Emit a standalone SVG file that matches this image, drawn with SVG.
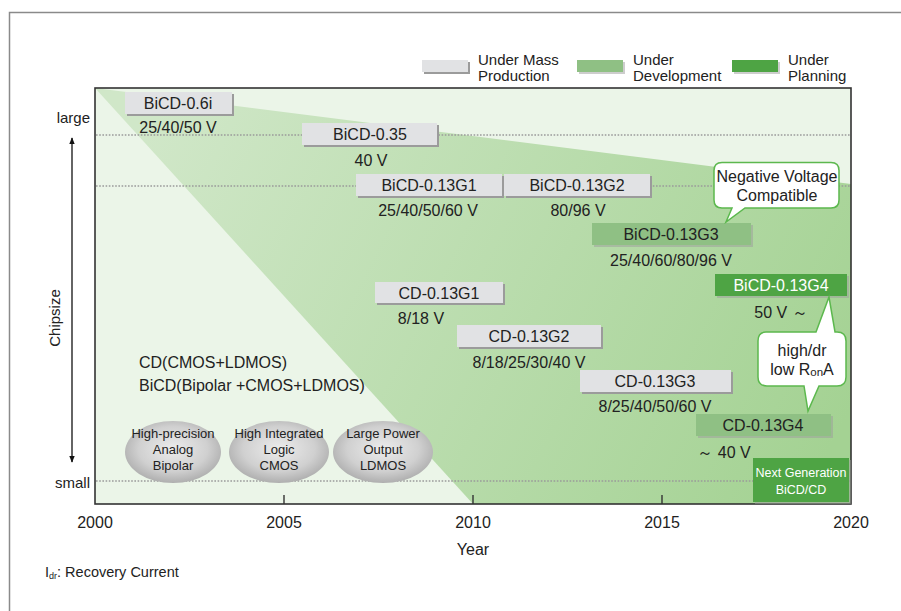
<svg xmlns="http://www.w3.org/2000/svg" width="901" height="611" viewBox="0 0 901 611">
<defs>
  <style>
    text { font-family: "Liberation Sans", Arial, sans-serif; fill: #222; }
    .lbl { font-size: 16px; text-anchor: middle; }
    .leg { font-size: 15px; }
    .axis { font-size: 16px; text-anchor: middle; }
    .ball { font-size: 13px; text-anchor: middle; }
    .small { font-size: 12.5px; text-anchor: middle; }
    .white { fill: #fff; }
    .dot { stroke: #9a9a9a; stroke-width: 1.6; stroke-dasharray: 1.6 1.6; fill: none; }
    .shadow { fill: #9b9b9b; }
    .gray { fill: #e1e2e4; }
    .dev { fill: #8fc084; }
    .plan { fill: #4ea444; }
    .callout { fill: #fff; stroke: #5cb84e; stroke-width: 1.5; }
  </style>
  <linearGradient id="greenFill" gradientUnits="userSpaceOnUse" x1="150" y1="130" x2="820" y2="470">
    <stop offset="0" stop-color="#d0e7c8"/>
    <stop offset="1" stop-color="#a4d293"/>
  </linearGradient>
  <radialGradient id="ballFill" cx="0.5" cy="0.45" r="0.6">
    <stop offset="0" stop-color="#ececec"/>
    <stop offset="0.6" stop-color="#d0d0d0"/>
    <stop offset="1" stop-color="#a6a6a6"/>
  </radialGradient>
  <marker id="arrow" viewBox="0 0 10 10" refX="9" refY="5" markerWidth="7" markerHeight="9" orient="auto-start-reverse" markerUnits="userSpaceOnUse">
    <path d="M0,1 L10,5 L0,9 z" fill="#111"/>
  </marker>
</defs>

<!-- page frame -->
<path d="M9.5,611 V12.5 H901" fill="none" stroke="#8a8a8a" stroke-width="1.5"/>

<!-- plot area -->
<rect x="95" y="88" width="756" height="416" fill="#ebf5e8"/>
<path d="M95,88 L851,184 L851,504 L473,504 Z" fill="url(#greenFill)"/>

<!-- chipsize grid lines -->
<g id="grid">
  <line class="dot" x1="96" y1="135" x2="850" y2="135"/>
  <line class="dot" x1="96" y1="186" x2="850" y2="186"/>
  <line class="dot" x1="96" y1="481" x2="850" y2="481"/>
</g>

<rect x="95" y="88" width="756" height="416" fill="none" stroke="#333" stroke-width="1.6"/>
<g id="ticks" stroke="#333" stroke-width="1.4">
  <line x1="284" y1="495" x2="284" y2="504"/>
  <line x1="473" y1="495" x2="473" y2="504"/>
  <line x1="662" y1="495" x2="662" y2="504"/>
</g>

<!-- axes labels -->
<g id="axis-labels">
  <text class="axis" x="95" y="528">2000</text>
  <text class="axis" x="284" y="528">2005</text>
  <text class="axis" x="473" y="528">2010</text>
  <text class="axis" x="662" y="528">2015</text>
  <text class="axis" x="851" y="528">2020</text>
  <text class="axis" x="473" y="555">Year</text>
  <text x="90" y="123" font-size="15" text-anchor="end">large</text>
  <text x="90" y="488" font-size="15" text-anchor="end">small</text>
  <text x="60" y="318" font-size="15" text-anchor="middle" transform="rotate(-90 60 318)">Chipsize</text>
</g>

<!-- chipsize arrow -->
<g id="connectors">
  <line x1="72" y1="138" x2="72" y2="462" stroke="#111" stroke-width="1.3" marker-start="url(#arrow)" marker-end="url(#arrow)"/>
</g>

<!-- legend -->
<g id="legend">
  <rect class="shadow" x="424" y="62" width="46" height="12"/>
  <rect class="gray" x="422" y="60" width="46" height="12"/>
  <text class="leg" x="478" y="64.5">Under Mass</text>
  <text class="leg" x="478" y="80.5">Production</text>
  <rect class="shadow" x="579" y="62" width="46" height="12" fill-opacity="0.5"/>
  <rect class="dev" x="577" y="60" width="46" height="12"/>
  <text class="leg" x="633" y="64.5">Under</text>
  <text class="leg" x="633" y="80.5">Development</text>
  <rect class="shadow" x="734" y="62" width="46" height="12" fill-opacity="0.5"/>
  <rect class="plan" x="732" y="60" width="46" height="12"/>
  <text class="leg" x="788" y="64.5">Under</text>
  <text class="leg" x="788" y="80.5">Planning</text>
</g>

<!-- BiCD generations -->
<g id="bicd-06i">
  <rect class="shadow" x="127" y="94" width="107" height="22"/>
  <rect class="gray" x="125" y="92" width="107" height="22"/>
  <text class="lbl" x="178" y="109">BiCD-0.6i</text>
  <text class="lbl" x="178" y="133">25/40/50 V</text>
</g>
<g id="bicd-035">
  <rect class="shadow" x="304" y="125" width="135" height="22"/>
  <rect class="gray" x="302" y="123" width="135" height="22"/>
  <text class="lbl" x="370" y="140">BiCD-0.35</text>
  <text class="lbl" x="371" y="166">40 V</text>
</g>
<g id="bicd-013g1">
  <rect class="shadow" x="358" y="176" width="146" height="22"/>
  <rect class="gray" x="356" y="174" width="146" height="22"/>
  <text class="lbl" x="429" y="191">BiCD-0.13G1</text>
  <text class="lbl" x="428" y="216">25/40/50/60 V</text>
</g>
<g id="bicd-013g2">
  <rect class="shadow" x="506" y="176" width="146" height="22"/>
  <rect class="gray" x="504" y="174" width="146" height="22"/>
  <text class="lbl" x="577" y="191">BiCD-0.13G2</text>
  <text class="lbl" x="578" y="216">80/96 V</text>
</g>
<g id="bicd-013g3">
  <rect class="shadow" x="594" y="225" width="159" height="22" fill-opacity="0.5"/>
  <rect class="dev" x="592" y="223" width="159" height="22"/>
  <text class="lbl" x="671" y="240">BiCD-0.13G3</text>
  <text class="lbl" x="671" y="266">25/40/60/80/96 V</text>
</g>
<g id="bicd-013g4">
  <rect class="shadow" x="717" y="276" width="132" height="22" fill-opacity="0.5"/>
  <rect class="plan" x="715" y="274" width="132" height="22"/>
  <text class="lbl white" x="781" y="291">BiCD-0.13G4</text>
  <text class="lbl" x="781" y="318">50 V ～</text>
</g>

<!-- CD generations -->
<g id="cd-013g1">
  <rect class="shadow" x="377" y="284" width="128" height="21"/>
  <rect class="gray" x="375" y="282" width="128" height="21"/>
  <text class="lbl" x="439" y="298.5">CD-0.13G1</text>
  <text class="lbl" x="421" y="324">8/18 V</text>
</g>
<g id="cd-013g2">
  <rect class="shadow" x="459" y="327" width="144" height="22"/>
  <rect class="gray" x="457" y="325" width="144" height="22"/>
  <text class="lbl" x="529" y="342">CD-0.13G2</text>
  <text class="lbl" x="529" y="368">8/18/25/30/40 V</text>
</g>
<g id="cd-013g3">
  <rect class="shadow" x="582" y="372" width="151" height="22"/>
  <rect class="gray" x="580" y="370" width="151" height="22"/>
  <text class="lbl" x="655" y="387">CD-0.13G3</text>
  <text class="lbl" x="655" y="412">8/25/40/50/60 V</text>
</g>
<g id="cd-013g4">
  <rect class="shadow" x="698" y="416" width="135" height="22" fill-opacity="0.5"/>
  <rect class="dev" x="696" y="414" width="135" height="22"/>
  <text class="lbl" x="763" y="431">CD-0.13G4</text>
  <text class="lbl" x="724" y="458">～ 40 V</text>
</g>
<g id="next-gen">
  <rect class="shadow" x="755" y="460" width="96" height="44" fill-opacity="0.5"/>
  <rect class="plan" x="753" y="458" width="96" height="44"/>
  <text class="small white" x="801" y="477">Next Generation</text>
  <text class="small white" x="801" y="493.5">BiCD/CD</text>
</g>

<!-- callouts -->
<g id="callout-negative">
  <path class="callout" d="M722,162.5 H831 Q839,162.5 839,170.5 V200 Q839,208 831,208 H745 L726,222 L732,208 H722 Q714,208 714,200 V170.5 Q714,162.5 722,162.5 Z"/>
  <text class="lbl" x="777" y="181.5">Negative Voltage</text>
  <text class="lbl" x="777" y="200.5">Compatible</text>
</g>
<g id="callout-ronA">
  <path class="callout" d="M766,332 H816 L829,297 L835,332 H837 Q846,332 846,341 V377 Q846,386 837,386 H819 L808,411 L804,386 H767 Q758,386 758,377 V341 Q758,332 766,332 Z"/>
  <text class="lbl" x="802" y="355.5">high/dr</text>
  <text class="lbl" x="802" y="374.5">low R<tspan font-size="11.5" dy="1">on</tspan><tspan dy="-1">A</tspan></text>
</g>

<!-- process legend text -->
<g id="process-text">
  <text x="139" y="368" font-size="16">CD(CMOS+LDMOS)</text>
  <text x="139" y="391" font-size="16">BiCD(Bipolar +CMOS+LDMOS)</text>
</g>

<g id="ball-bipolar">
  <ellipse cx="173" cy="452" rx="48" ry="31" fill="url(#ballFill)"/>
  <text class="ball" x="173" y="437.5">High-precision</text>
  <text class="ball" x="173" y="453.5">Analog</text>
  <text class="ball" x="173" y="469.5">Bipolar</text>
</g>
<g id="ball-cmos">
  <ellipse cx="279" cy="452" rx="50" ry="31" fill="url(#ballFill)"/>
  <text class="ball" x="279" y="437.5">High Integrated</text>
  <text class="ball" x="279" y="453.5">Logic</text>
  <text class="ball" x="279" y="469.5">CMOS</text>
</g>
<g id="ball-ldmos">
  <ellipse cx="383" cy="452" rx="50" ry="31" fill="url(#ballFill)"/>
  <text class="ball" x="383" y="437.5">Large Power</text>
  <text class="ball" x="383" y="453.5">Output</text>
  <text class="ball" x="383" y="469.5">LDMOS</text>
</g>

<!-- footnote -->
<text x="45" y="577" font-size="14.5">I<tspan font-size="9" dy="2">dr</tspan><tspan dy="-2">: Recovery Current</tspan></text>
</svg>
